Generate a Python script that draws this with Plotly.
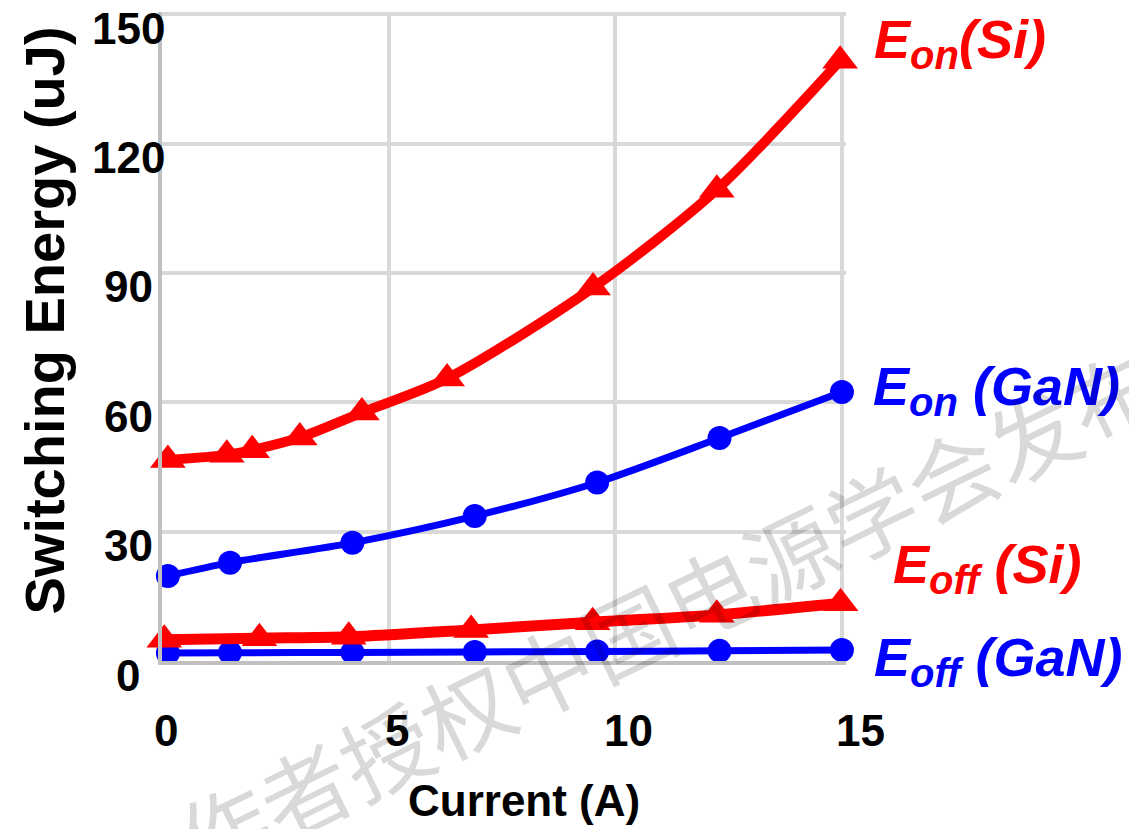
import plotly.graph_objects as go

# Switching energy vs. load current for GaN and Si devices
current_gan = [0.13, 1.5, 4.2, 6.9, 9.6, 12.3, 15.0]
eon_gan = [19.7, 22.8, 27.4, 33.6, 41.4, 51.7, 62.4]
eoff_gan = [1.85, 1.9, 2.0, 2.1, 2.2, 2.35, 2.55]

current_si_on = [0.13, 1.43, 1.99, 3.04, 4.41, 6.29, 9.51, 12.24, 14.96]
eon_si = [46.6, 47.8, 48.9, 51.8, 57.6, 65.5, 86.6, 109.3, 139.2]

current_si_off = [0.05, 2.15, 4.12, 6.82, 9.5, 12.24, 14.97]
eoff_si = [4.9, 5.3, 5.6, 7.2, 9.0, 10.7, 13.4]

x_ticks = [0, 5, 10, 15]
y_ticks = [0, 30, 60, 90, 120, 150]

RED = "#ff0000"
BLUE = "#0000ff"
FONT = "Arial, 'Liberation Sans', sans-serif"

fig = go.Figure()


def add_series(x, y, color, symbol, width, size):
    fig.add_trace(go.Scatter(
        x=x, y=y, mode="lines+markers",
        line=dict(color=color, width=width, shape="spline", smoothing=0.8),
        marker=dict(color=color, symbol=symbol, size=size),
        cliponaxis=False, showlegend=False, hoverinfo="x+y",
    ))


add_series(current_gan, eoff_gan, BLUE, "circle", 7, 24)
add_series(current_gan, eon_gan, BLUE, "circle", 7, 24)
add_series(current_si_off, eoff_si, RED, "triangle-up", 11, 31)
add_series(current_si_on, eon_si, RED, "triangle-up", 10, 31)

annotations = []

# tick labels
for v in y_ticks:
    annotations.append(dict(
        text=f"<b>{v}</b>", xref="paper", yref="y", x=0, y=v,
        xanchor="center", yanchor="middle", xshift=-34, yshift=-14,
        showarrow=False, font=dict(family=FONT, size=44, color="black"),
    ))
for v in x_ticks:
    annotations.append(dict(
        text=f"<b>{v}</b>", xref="x", yref="paper", x=v, y=0,
        xanchor="center", yanchor="middle", xshift=4 + 0.95 * v, yshift=-69,
        showarrow=False, font=dict(family=FONT, size=44, color="black"),
    ))

# axis titles
annotations.append(dict(
    text="<b>Current (A)</b>", xref="paper", yref="paper", x=0.5, y=0,
    xanchor="center", yanchor="middle", xshift=20, yshift=-139,
    showarrow=False, font=dict(family=FONT, size=44, color="black"),
))
annotations.append(dict(
    text="<b>Switching Energy (uJ)</b>", xref="paper", yref="paper", x=0, y=0.5,
    xanchor="center", yanchor="middle", xshift=-118, yshift=16, textangle=-90,
    showarrow=False, font=dict(family=FONT, size=56, color="black"),
))

# series labels
def series_label(main, sub, rest, color, y, xshift):
    text = (f"<b><i>{main}<sub><span style='font-size:40px'>{sub}</span></sub>"
            f"{rest}</i></b>")
    annotations.append(dict(
        text=text, xref="paper", yref="y", x=1, y=y,
        xanchor="left", yanchor="middle", xshift=xshift,
        showarrow=False, font=dict(family=FONT, size=54, color=color),
    ))


series_label("E", "on", "(Si)", RED, 143.2, 26)
series_label("E", "on", " (GaN)", BLUE, 62.8, 25)
series_label("E", "off", " (Si)", RED, 21.6, 45)
series_label("E", "off", " (GaN)", BLUE, 0.0, 26)

# watermark
annotations.append(dict(
    text="作者授权中国电源学会发布", xref="paper", yref="paper",
    x=0.74, y=0.078,
    xanchor="center", yanchor="middle", textangle=-26,
    showarrow=False,
    font=dict(family="'Noto Sans CJK SC'", size=90, color="rgba(0,0,0,0.15)"),
))

fig.update_layout(
    width=1129, height=829,
    margin=dict(l=162, r=283, t=12, b=168),
    paper_bgcolor="white", plot_bgcolor="white",
    annotations=annotations,
    xaxis=dict(
        range=[0, 15.09], tickvals=x_ticks, showticklabels=False, ticks="",
        showgrid=True, gridcolor="#d9d9d9", gridwidth=4,
        showline=True, linecolor="#c0c0c0", linewidth=4, zeroline=False,
    ),
    yaxis=dict(
        range=[0, 150.5], tickvals=y_ticks, showticklabels=False, ticks="",
        showgrid=True, gridcolor="#d9d9d9", gridwidth=4,
        showline=True, linecolor="#c0c0c0", linewidth=4, zeroline=False,
    ),
)

fig.write_html("out.html")
